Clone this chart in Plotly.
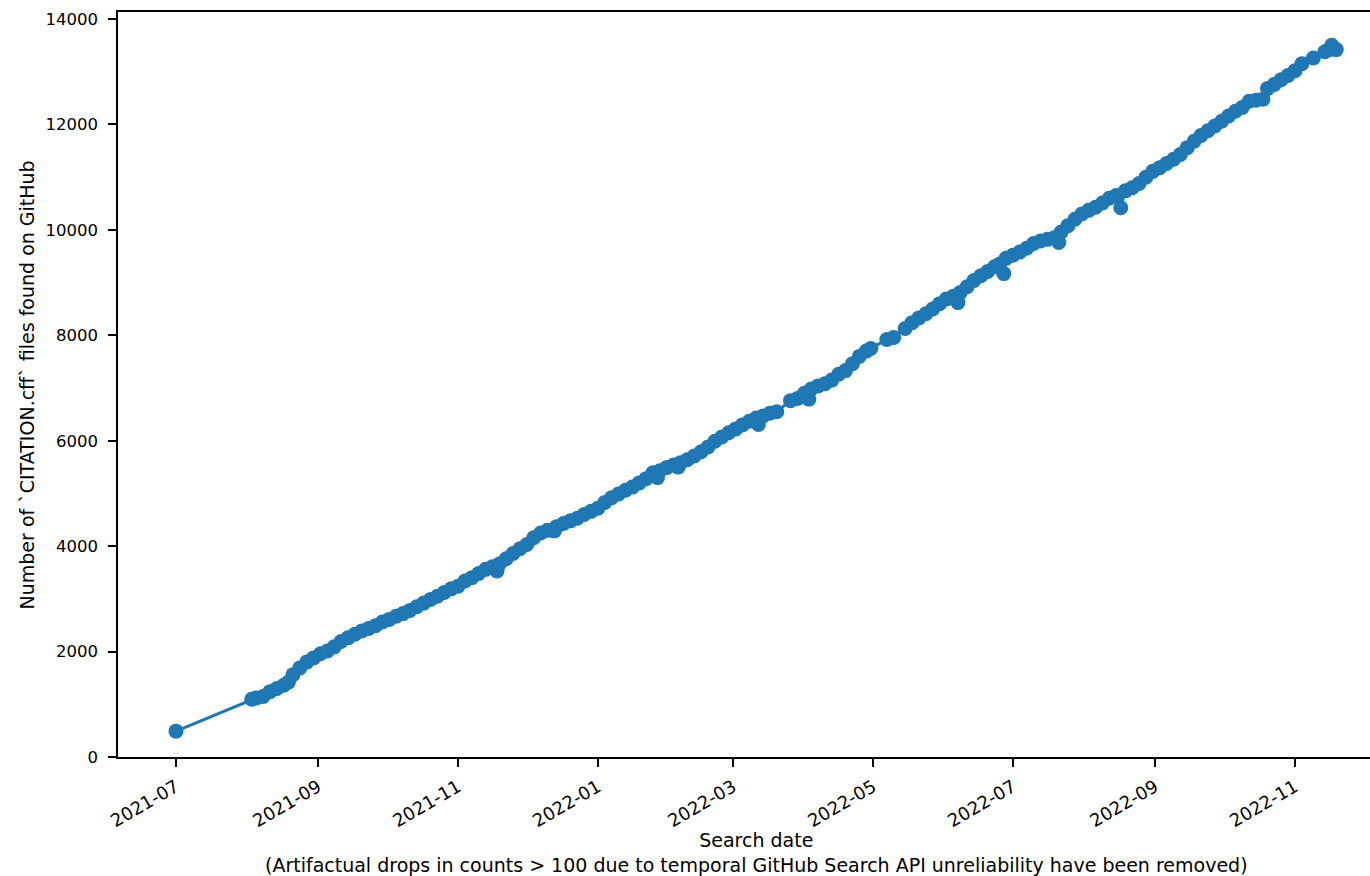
import plotly.graph_objects as go

search_dates = [
    "2021-07-01",
    "2021-08-03", "2021-08-05", "2021-08-08", "2021-08-11", "2021-08-14", "2021-08-17", "2021-08-19",
    "2021-08-21", "2021-08-24", "2021-08-27", "2021-08-30", "2021-09-02", "2021-09-05", "2021-09-08",
    "2021-09-11", "2021-09-14", "2021-09-17", "2021-09-20", "2021-09-23", "2021-09-26", "2021-09-29",
    "2021-10-02", "2021-10-05", "2021-10-08", "2021-10-11", "2021-10-14", "2021-10-17", "2021-10-20",
    "2021-10-23", "2021-10-26", "2021-10-29", "2021-11-01", "2021-11-04", "2021-11-07", "2021-11-10",
    "2021-11-13", "2021-11-16", "2021-11-18", "2021-11-19", "2021-11-22", "2021-11-25", "2021-11-28",
    "2021-12-01", "2021-12-04", "2021-12-07", "2021-12-10", "2021-12-13", "2021-12-14", "2021-12-17",
    "2021-12-20", "2021-12-23", "2021-12-26", "2021-12-29", "2022-01-01", "2022-01-04", "2022-01-07",
    "2022-01-10", "2022-01-13", "2022-01-16", "2022-01-19", "2022-01-22", "2022-01-25", "2022-01-27",
    "2022-01-28", "2022-01-31", "2022-02-03", "2022-02-05", "2022-02-06", "2022-02-09", "2022-02-12",
    "2022-02-15", "2022-02-18", "2022-02-21", "2022-02-24", "2022-02-27", "2022-03-02", "2022-03-05",
    "2022-03-08", "2022-03-11", "2022-03-12", "2022-03-14", "2022-03-17", "2022-03-20", "2022-03-26",
    "2022-03-29", "2022-04-01", "2022-04-03", "2022-04-04", "2022-04-07", "2022-04-10", "2022-04-13",
    "2022-04-16", "2022-04-19", "2022-04-22", "2022-04-25", "2022-04-28", "2022-04-30", "2022-05-07",
    "2022-05-10", "2022-05-15", "2022-05-18", "2022-05-21", "2022-05-24", "2022-05-27", "2022-05-30",
    "2022-06-02", "2022-06-05", "2022-06-07", "2022-06-08", "2022-06-11", "2022-06-14", "2022-06-17",
    "2022-06-20", "2022-06-23", "2022-06-25", "2022-06-27", "2022-06-28", "2022-07-01", "2022-07-04",
    "2022-07-07", "2022-07-10", "2022-07-13", "2022-07-16", "2022-07-19", "2022-07-21", "2022-07-22",
    "2022-07-25", "2022-07-28", "2022-07-31", "2022-08-03", "2022-08-06", "2022-08-09", "2022-08-12",
    "2022-08-15", "2022-08-17", "2022-08-19", "2022-08-22", "2022-08-25", "2022-08-28", "2022-08-31",
    "2022-09-03", "2022-09-06", "2022-09-09", "2022-09-12", "2022-09-15", "2022-09-18", "2022-09-21",
    "2022-09-24", "2022-09-27", "2022-09-30", "2022-10-03", "2022-10-06", "2022-10-09", "2022-10-12",
    "2022-10-15", "2022-10-18", "2022-10-20", "2022-10-23", "2022-10-26", "2022-10-29", "2022-11-01",
    "2022-11-04", "2022-11-09", "2022-11-14", "2022-11-16", "2022-11-17", "2022-11-19",
]

cff_counts = [
    490,
    1095, 1120, 1150, 1240, 1300, 1360, 1420,
    1560, 1690, 1800, 1880, 1960, 2010, 2090,
    2190, 2260, 2330, 2390, 2440, 2490, 2560,
    2610, 2670, 2720, 2780, 2850, 2920, 2990,
    3050, 3120, 3190, 3240, 3340, 3400, 3480,
    3560, 3610, 3530, 3660, 3760, 3860, 3950,
    4030, 4160, 4250, 4300, 4290, 4370, 4430,
    4480, 4530, 4600, 4660, 4720, 4830, 4920,
    4990, 5060, 5120, 5200, 5280, 5390, 5300,
    5430, 5490, 5540, 5500, 5580, 5640, 5710,
    5790, 5880, 5990, 6070, 6150, 6220, 6300,
    6370, 6430, 6310, 6470, 6520, 6550, 6760,
    6800, 6900, 6790, 6980, 7040, 7080, 7150,
    7260, 7330, 7460, 7600, 7700, 7750, 7920,
    7960, 8130, 8240, 8330, 8410, 8500, 8600,
    8690, 8740, 8620, 8810, 8920, 9040, 9130,
    9210, 9300, 9350, 9170, 9460, 9520, 9580,
    9650, 9740, 9790, 9820, 9850, 9760, 9960,
    10080, 10200, 10300, 10370, 10430, 10510, 10600,
    10650, 10420, 10740, 10800, 10880, 11000, 11110,
    11180, 11260, 11340, 11430, 11560, 11680, 11790,
    11880, 11970, 12060, 12160, 12250, 12320, 12440,
    12460, 12480, 12680, 12760, 12850, 12930, 13020,
    13150, 13260, 13380, 13420, 13500, 13420,
]

x_tick_values = ["2021-07-01", "2021-09-01", "2021-11-01", "2022-01-01", "2022-03-01",
                 "2022-05-01", "2022-07-01", "2022-09-01", "2022-11-01"]
x_tick_labels = ["2021-07", "2021-09", "2021-11", "2022-01", "2022-03",
                 "2022-05", "2022-07", "2022-09", "2022-11"]
y_tick_values = [0, 2000, 4000, 6000, 8000, 10000, 12000, 14000]
y_tick_labels = ["0", "2000", "4000", "6000", "8000", "10000", "12000", "14000"]

y_title = "Number of `CITATION.cff` files found on GitHub"
x_title = ("Search date<br>(Artifactual drops in counts > 100 due to temporal "
           "GitHub Search API unreliability have been removed)")

FONT = "DejaVu Sans"
BLUE = "#1f77b4"

fig = go.Figure()
fig.add_trace(go.Scatter(
    x=search_dates, y=cff_counts, mode="lines+markers",
    line=dict(color=BLUE, width=3),
    marker=dict(color=BLUE, size=15, line=dict(width=0)),
    showlegend=False, cliponaxis=False,
))

fig.update_layout(
    width=1370, height=876,
    margin=dict(l=118, r=0, t=12, b=119),
    paper_bgcolor="white", plot_bgcolor="white",
    font=dict(family=FONT, size=16, color="#000000"),
    xaxis=dict(
        type="date",
        range=["2021-06-05 17:00", "2022-12-03 17:00"],
        tickvals=x_tick_values, ticktext=x_tick_labels,
        tickangle=-30,
        showgrid=False, zeroline=False,
        showline=True, linecolor="#000000", linewidth=1.5, mirror=True,
        ticks="outside", ticklen=8, tickwidth=1.5, tickcolor="#000000",
        ticklabelstandoff=3,
        tickfont=dict(family=FONT, size=18),
    ),
    yaxis=dict(
        range=[0, 14133],
        tickvals=y_tick_values, ticktext=y_tick_labels,
        showgrid=False, zeroline=False,
        showline=True, linecolor="#000000", linewidth=1.5, mirror=False,
        ticks="outside", ticklen=8, tickwidth=1.5, tickcolor="#000000",
        ticklabelstandoff=7,
        tickfont=dict(family=FONT, size=16.5),
    ),
    annotations=[
        dict(text=y_title, xref="paper", yref="paper", x=-0.0727, y=0.5,
             textangle=-90, showarrow=False, xanchor="center", yanchor="middle",
             font=dict(family=FONT, size=19)),
        dict(text=x_title, xref="paper", yref="paper", x=0.5096, y=-0.1282,
             showarrow=False, xanchor="center", yanchor="middle", align="center",
             font=dict(family=FONT, size=19)),
    ],
)

fig.write_html(
    "out.html",
    config={"displayModeBar": False},
    post_script="document.body.style.margin='0';document.body.style.overflow='hidden';",
)
